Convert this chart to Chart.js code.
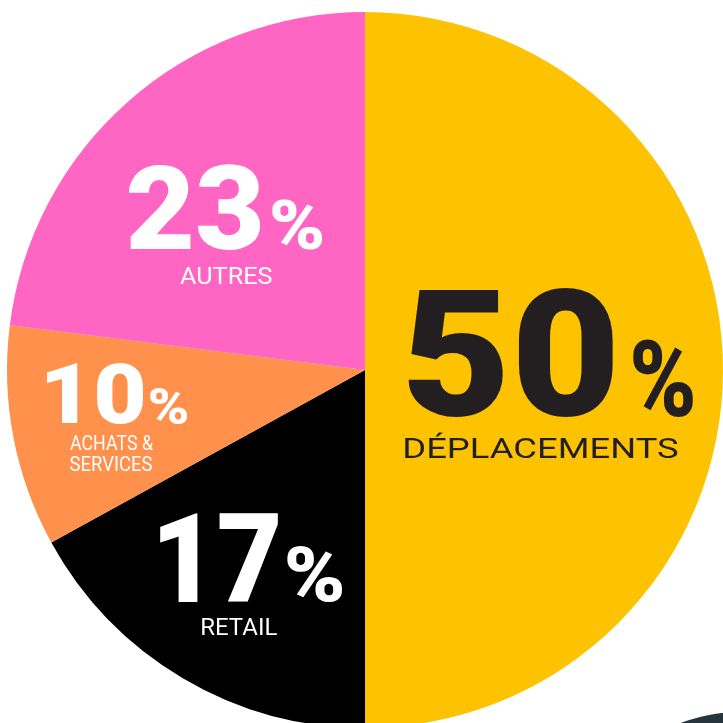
<!DOCTYPE html>
<html>
<head>
<meta charset="utf-8">
<script src="https://cdn.jsdelivr.net/npm/chart.js@4.4.1/dist/chart.umd.min.js"></script>
<style>
  html, body { margin: 0; padding: 0; background: #fff; overflow: hidden; }
  #wrap { position: absolute; left: 0; top: 0; width: 730px; height: 740px; }
</style>
</head>
<body>
<div id="wrap"><canvas id="chart"></canvas></div>
<script>
  // ---- data ----
  const categories = ["DÉPLACEMENTS", "RETAIL", "ACHATS & SERVICES", "AUTRES"];
  const shares = [50, 17, 10, 23];
  const sliceColors = ["#fdc300", "#000000", "#ff914d", "#ff66c4"];
  const textColors = ["#231f20", "#ffffff", "#ffffff", "#ffffff"];

  // ink boxes [x0, y0, x1, y1] for each label part, per slice
  const labelBoxes = [
    { num: [407, 288, 613, 417], pct: [633, 340, 693, 417], lines: [[405, 432, 678, 458]] },
    { num: [160, 513, 278, 602], pct: [287, 547, 342, 602], lines: [[202, 618, 277, 635]] },
    { num: [47, 363, 143, 424], pct: [150, 388, 187, 424], lines: [[70, 436, 153, 450], [70, 457, 152, 471]] },
    { num: [128, 165, 260, 250], pct: [272, 200, 322, 250], lines: [[180, 267, 272, 284]] }
  ];

  function splitLines(name) {
    return name.includes("& ") ? [name.slice(0, name.indexOf("& ") + 1), name.slice(name.indexOf("& ") + 2)] : [name];
  }

  function fitText(ctx, text, box, font, color) {
    ctx.save();
    ctx.font = font;
    ctx.textBaseline = "alphabetic";
    ctx.textAlign = "left";
    const m = ctx.measureText(text);
    const w = m.actualBoundingBoxLeft + m.actualBoundingBoxRight;
    const h = m.actualBoundingBoxAscent + m.actualBoundingBoxDescent;
    const sx = (box[2] - box[0]) / w;
    const sy = (box[3] - box[1]) / h;
    ctx.translate(box[0], box[1]);
    ctx.scale(sx, sy);
    ctx.fillStyle = color;
    ctx.fillText(text, m.actualBoundingBoxLeft, m.actualBoundingBoxAscent);
    ctx.restore();
  }

  const decoPlugin = {
    id: "deco",
    beforeDraw(chart) {
      const c = chart.ctx;
      c.save();
      c.fillStyle = "#26343b";
      c.beginPath();
      c.arc(749, 911, 200, 0, Math.PI * 2);
      c.fill();
      c.restore();
    }
  };

  const labelPlugin = {
    id: "sliceLabels",
    afterDatasetsDraw(chart) {
      const c = chart.ctx;
      chart.data.datasets[0].data.forEach((v, i) => {
        const b = labelBoxes[i];
        fitText(c, String(v), b.num, "900 100px Roboto", textColors[i]);
        fitText(c, "%", b.pct, "900 100px Roboto", textColors[i]);
        splitLines(chart.data.labels[i]).forEach((line, j) => {
          fitText(c, line, b.lines[j], "400 40px Roboto", textColors[i]);
        });
      });
    }
  };

  new Chart(document.getElementById("chart"), {
    type: "pie",
    data: {
      labels: categories,
      datasets: [{ data: shares, backgroundColor: sliceColors, borderWidth: 0 }]
    },
    options: {
      responsive: true,
      maintainAspectRatio: false,
      animation: false,
      layout: { padding: { left: 7, right: 7, top: 12, bottom: 12 } },
      plugins: { legend: { display: false }, tooltip: { enabled: false } }
    },
    plugins: [decoPlugin, labelPlugin]
  });
</script>
</body>
</html>
